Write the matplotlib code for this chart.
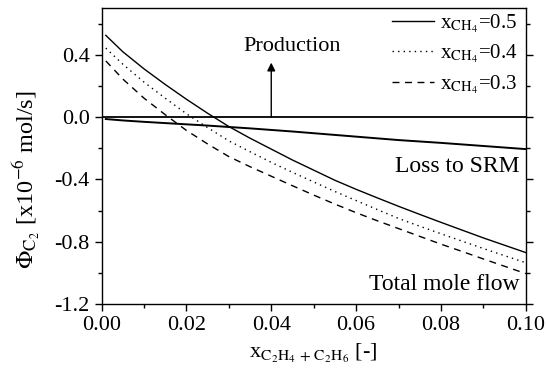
import matplotlib

matplotlib.use("Agg")
import matplotlib.pyplot as plt
from matplotlib.ticker import MultipleLocator

plt.rcParams["font.family"] = ["Liberation Serif", "DejaVu Serif"]
plt.rcParams["mathtext.fontset"] = "stix"
plt.rcParams["font.size"] = 16

# mole fraction of C2H4 + C2H6
x_c2 = [0.001, 0.005, 0.01, 0.015, 0.02, 0.025, 0.03, 0.035, 0.04, 0.045, 0.05,
        0.055, 0.06, 0.065, 0.07, 0.075, 0.08, 0.085, 0.09, 0.095, 0.10]

# total C2 mole flow [1e-6 mol/s] for each methane fraction
flow_ch4_05 = [0.525, 0.42, 0.31, 0.21, 0.115, 0.025, -0.06, -0.135, -0.205, -0.275, -0.34,
               -0.405, -0.463, -0.518, -0.572, -0.624, -0.675, -0.725, -0.775, -0.822, -0.869]
flow_ch4_04 = [0.443, 0.34, 0.225, 0.122, 0.022, -0.067, -0.152, -0.222, -0.29, -0.354, -0.416,
               -0.477, -0.535, -0.593, -0.65, -0.70, -0.748, -0.796, -0.843, -0.889, -0.934]
flow_ch4_03 = [0.361, 0.245, 0.122, 0.016, -0.085, -0.172, -0.253, -0.318, -0.379, -0.44, -0.50,
               -0.558, -0.613, -0.665, -0.715, -0.765, -0.815, -0.862, -0.91, -0.957, -1.004]

# C2 lost to steam reforming (SRM)
loss_srm = [-0.012, -0.021, -0.03, -0.038, -0.046, -0.054, -0.063, -0.072, -0.082, -0.092, -0.103,
            -0.114, -0.125, -0.136, -0.147, -0.156, -0.165, -0.175, -0.185, -0.195, -0.205]

series_labels = ["0.5", "0.4", "0.3"]
series_styles = ["-", (0, (1, 3)), (0, (5, 4))]

fig = plt.figure(figsize=(5.46, 3.85), dpi=100)
ax = fig.add_axes([0.186, 0.21, 0.777, 0.769])

for y, lab, ls in zip([flow_ch4_05, flow_ch4_04, flow_ch4_03], series_labels, series_styles):
    ax.plot(x_c2, y, color="black", lw=1.0, ls=ls,
            label=r"x$_{\mathrm{CH_4}}$=" + lab)

ax.plot(x_c2, loss_srm, color="black", lw=1.4)
ax.axhline(0.0, color="black", lw=1.3)

# production arrow
ax.annotate("", xy=(0.04, 0.35), xytext=(0.04, 0.0),
            arrowprops=dict(arrowstyle="-|>", color="black", lw=1.0,
                            mutation_scale=12, shrinkA=0, shrinkB=0))
ax.text(0.0449, 0.455, "Production", ha="center", va="center", fontsize=16)
ax.text(0.0985, -0.316, "Loss to SRM", ha="right", va="center", fontsize=17)
ax.text(0.0985, -1.071, "Total mole flow", ha="right", va="center", fontsize=17)

ax.xaxis.set_major_locator(MultipleLocator(0.02))
ax.xaxis.set_minor_locator(MultipleLocator(0.01))
ax.yaxis.set_major_locator(MultipleLocator(0.4))
ax.yaxis.set_minor_locator(MultipleLocator(0.2))
ax.xaxis.set_major_formatter(lambda v, pos: f"{v:.2f}")
ax.yaxis.set_major_formatter(lambda v, pos: f"{v:.1f}")
ax.set_xlim(0.0, 0.1)
ax.set_ylim(-1.2, 0.7)

ax.tick_params(which="major", direction="out", length=5, width=1.0, labelsize=16)
ax.tick_params(which="minor", direction="out", length=3, width=1.0)
ax.tick_params(axis="y", which="both", right=True, labelright=False)
for s in ax.spines.values():
    s.set_linewidth(1.0)

ax.set_xlabel(r"x$_{\mathrm{C_2H_4\,+\,C_2H_6}}$ [-]", fontsize=16, labelpad=5)
ax.set_ylabel(r"$\Phi_{\mathrm{C_2}}$ [x10$^{-6}$ mol/s]", fontsize=17.5)
ax.yaxis.set_label_coords(-0.14, 0.42)

ax.legend(loc="upper right", frameon=False, fontsize=15, handlelength=2.0,
          handletextpad=0.3, labelspacing=0.38, borderaxespad=0.0,
          bbox_to_anchor=(1.0, 1.015))

fig.savefig("out.png", dpi=100)
